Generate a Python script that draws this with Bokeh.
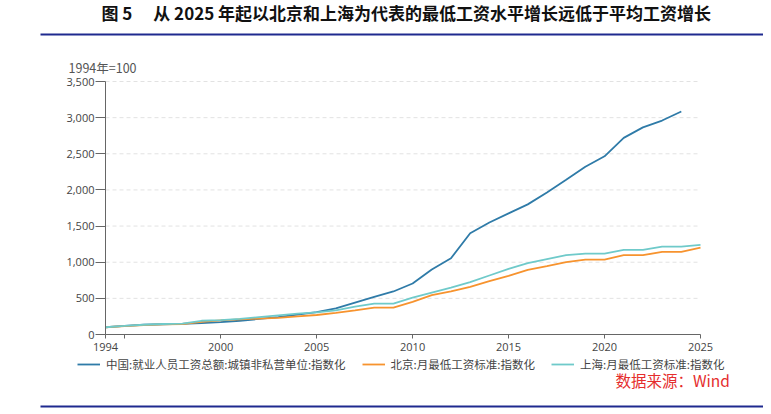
from bokeh.plotting import figure
from bokeh.models import (ColumnDataSource, FixedTicker, NumeralTickFormatter, Label,
                          BoxAnnotation, Legend, LegendItem, Range1d)
from bokeh.embed import file_html
from bokeh.resources import INLINE

years_cn = list(range(1994, 2025))
cn_wage = [100, 120, 135, 142, 148, 158, 170, 190, 215, 240, 275, 310, 360, 440, 520,
           595, 705, 900, 1055, 1400, 1550, 1675, 1800, 1965, 2140, 2320, 2465, 2720,
           2865, 2960, 3085]
years_min = list(range(1994, 2026))
bj_min = [100, 115, 130, 140, 145, 175, 195, 210, 220, 230, 250, 270, 300, 335, 372,
          372, 450, 545, 595, 660, 737, 812, 894, 945, 1000, 1037, 1037, 1097, 1097,
          1143, 1143, 1203]
sh_min = [100, 120, 135, 145, 150, 190, 200, 215, 240, 265, 290, 305, 335, 385, 428,
          428, 510, 580, 650, 724, 816, 908, 986, 1042, 1097, 1120, 1120, 1171, 1171,
          1217, 1217, 1240]
x_ticks = [1994, 1995, 2000, 2005, 2010, 2015, 2020, 2025]
y_ticks = [0, 500, 1000, 1500, 2000, 2500, 3000, 3500]
names = ["中国:就业人员工资总额:城镇非私营单位:指数化",
         "北京:月最低工资标准:指数化",
         "上海:月最低工资标准:指数化"]
title_text = "图 5　  从 2025 年起以北京和上海为代表的最低工资水平增长远低于平均工资增长"
unit_text = "1994年=100"
source_text = "数据来源：Wind"

CN = "Noto Sans CJK SC"
W, H = 763, 408
RULE = "#1f2a8f"
X0, X1, Y0, Y1 = 1994, 2025, 0, 3500
# where the axes sit on the canvas (px) and the frame that holds them
AX_L, AX_R, AX_T, AX_B = 105, 700, 81, 334
FR_L, FR_T = 40, 2
ppx = (AX_R - AX_L) / (X1 - X0)
ppy = (AX_B - AX_T) / (Y1 - Y0)
x_rng = Range1d(X0 - (AX_L - FR_L) / ppx, X1 + (W - AX_R) / ppx)
y_rng = Range1d(Y0 - (H - AX_B) / ppy, Y1 + (AX_T - FR_T) / ppy)

p = figure(width=W, height=H, output_backend="svg", toolbar_location=None,
           x_range=x_rng, y_range=y_rng, x_axis_location="above",
           min_border_left=FR_L, min_border_right=0, min_border_top=FR_T,
           min_border_bottom=0)
p.outline_line_color = None
p.xgrid.visible = False
p.ygrid.visible = False

# dashed horizontal guide lines at the y ticks, across the axis span
gl = [t for t in y_ticks if t > 0]
p.segment(x0=[X0] * len(gl), x1=[X1] * len(gl), y0=gl, y1=gl,
          line_color="#e2e2e2", line_width=1, line_dash="4 3")

src_cn = ColumnDataSource(dict(x=years_cn, y=cn_wage))
src_min = ColumnDataSource(dict(x=years_min, bj=bj_min, sh=sh_min))
r_cn = p.line("x", "y", source=src_cn, line_color="#2f7ba8", line_width=1.8)
r_bj = p.line("x", "bj", source=src_min, line_color="#f7932e", line_width=1.8)
r_sh = p.line("x", "sh", source=src_min, line_color="#6fcaca", line_width=1.8)

xa, ya = p.xaxis[0], p.yaxis[0]
xa.fixed_location = Y0
xa.bounds = (X0, X1)
xa.ticker = FixedTicker(ticks=x_ticks)
xa.major_label_overrides = {1995: ""}
xa.major_tick_in = 4
xa.major_tick_out = 0
xa.major_label_standoff = -16
ya.fixed_location = X0
ya.bounds = (Y0, Y1)
ya.ticker = FixedTicker(ticks=y_ticks)
ya.formatter = NumeralTickFormatter(format="0,0")
ya.major_tick_in = 0
ya.major_tick_out = 10
ya.major_label_standoff = 1
for ax in (xa, ya):
    ax.axis_line_color = "#666666"
    ax.major_tick_line_color = "#666666"
    ax.minor_tick_line_color = None
    ax.major_label_text_font = "Open Sans"
    ax.major_label_text_font_size = "11px"
    ax.major_label_text_color = "#444444"

legend = Legend(items=[LegendItem(label=names[0], renderers=[r_cn]),
                       LegendItem(label=names[1], renderers=[r_bj]),
                       LegendItem(label=names[2], renderers=[r_sh])],
                orientation="horizontal", location=(77 - FR_L, H - 372),
                border_line_color=None, background_fill_alpha=0,
                padding=0, margin=0, spacing=16, label_standoff=6,
                glyph_width=23, glyph_height=12, label_height=12,
                label_text_font=CN, label_text_font_size="11.5px",
                label_text_color="#444444")
p.add_layout(legend, "center")


def text(x, y, s, size, color, bold=False):
    p.add_layout(Label(x=x, y=y, x_units="canvas", y_units="canvas", text=s,
                       text_font=CN, text_font_size=size, text_color=color,
                       text_font_style="bold" if bold else "normal",
                       text_align="left", text_baseline="middle"))


def rule(top):
    p.add_layout(BoxAnnotation(left=38, right=W, top=top, bottom=top + 2,
                               left_units="canvas", right_units="canvas",
                               top_units="canvas", bottom_units="canvas",
                               fill_color=RULE, fill_alpha=1, line_color=None))


text(101, 12, title_text, "17px", "#111111", bold=True)
text(68, 67, unit_text, "12.5px", "#555555")
text(615, 379, source_text, "15.5px", "#e52d2d")
rule(33)
rule(H - 3)

open("out.html", "w").write(file_html(p, INLINE))
